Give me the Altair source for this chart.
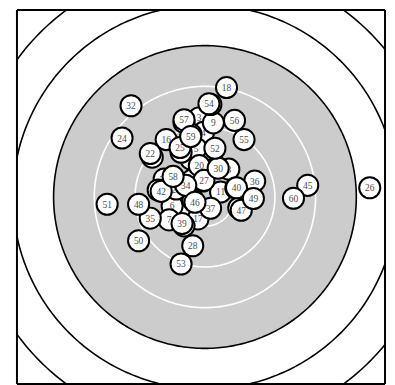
import altair as alt
import numpy as np
import pandas as pd

# Shot numbers and positions (mm from target centre, y up)
shot_n = [1, 2, 3, 4, 5, 6, 7, 8, 9, 10,
          11, 12, 13, 14, 15, 16, 17, 18, 19, 20,
          21, 22, 23, 24, 25, 26, 27, 28, 29, 30,
          31, 32, 33, 34, 35, 36, 37, 38, 39, 40,
          41, 42, 43, 44, 45, 46, 47, 48, 49, 50,
          51, 52, 53, 54, 55, 56, 57, 58, 59, 60]
shot_x = [-2.74, -3.32, -1.17, -0.29, -1.76, -6.45, -7.04, 4.69, 1.66, 2.35,
          3.07, -10.36, -4.69, -0.39, -2.54, -7.62, -1.37, 4.24, -2.35, -1.11,
          6.06, -10.75, -4.11, -16.29, -4.89, 32.39, -0.20, -2.40, -5.67, 2.60,
          1.17, -14.53, -8.02, -3.77, -10.75, 9.78, 1.11, 6.65, -4.50, 6.20,
          -9.19, -8.60, -4.11, -2.74, 20.20, -1.96, 7.14, -13.04, 9.52, -13.04,
          -19.22, 1.96, -4.69, 0.78, 7.68, 5.81, -4.11, -6.26, -2.80, 17.40]
shot_y = [7.43, -3.32, 15.54, 12.71, 9.58, -1.76, -4.50, 5.47, 14.57, 5.87,
          0.98, 7.82, 8.80, 3.13, 3.32, 11.28, -4.30, 21.51, -0.59, 6.16,
          1.76, 8.54, -5.67, 11.59, 9.72, 1.82, 3.26, -9.58, 1.56, 5.67,
          18.18, 17.93, 3.52, 2.29, -4.16, 3.13, -2.21, -2.15, -5.22, 1.82,
          1.37, 1.11, 14.66, 12.32, 2.29, -1.04, -2.60, -1.43, -0.29, -8.60,
          -1.43, 9.58, -13.16, 18.32, 11.28, 15.05, 15.19, 4.05, 11.87, -0.25]

# 10 m air pistol target ring radii (mm)
black_ring_r = [29.75, 37.75, 45.75, 53.75]
white_ring_r = [5.75, 13.75, 21.75]
aim_r = 29.75

XD = [-36.95, 35.39]
YD = [-36.75, 36.75]
W, H = 370, 376

sx = alt.Scale(domain=XD, nice=False, zero=False)
sy = alt.Scale(domain=YD, nice=False, zero=False)

t = np.linspace(0, 2 * np.pi, 361)
ring_rows = []
for kind, radii in (("black", black_ring_r), ("white", white_ring_r)):
    for r in radii:
        for i, a in enumerate(t):
            ring_rows.append({"ring": f"{kind}{r}", "kind": kind, "i": i,
                              "x": r * np.cos(a), "y": r * np.sin(a)})
rings = pd.DataFrame(ring_rows)

th = np.linspace(np.pi, 0, 361)
disk = pd.DataFrame({"x": aim_r * np.cos(th), "y": aim_r * np.sin(th),
                     "y2": -aim_r * np.sin(th)})

X = alt.X("x:Q", scale=sx, axis=None)
Y = alt.Y("y:Q", scale=sy, axis=None)

gray = alt.Chart(disk).mark_area(color="#cccccc", clip=True).encode(
    x=X, y=Y, y2="y2:Q")

white_lines = alt.Chart(rings).transform_filter(alt.datum.kind == "white").mark_line(
    color="white", strokeWidth=1.6, clip=True).encode(
    x=X, y=Y, detail="ring:N", order="i:Q")

black_lines = alt.Chart(rings).transform_filter(alt.datum.kind == "black").mark_line(
    color="black", strokeWidth=1.6, clip=True).encode(
    x=X, y=Y, detail="ring:N", order="i:Q")

shots = pd.DataFrame({"n": shot_n, "x": shot_x, "y": shot_y})
base = alt.Chart(shots)

layers = [gray, white_lines, black_lines]
for n in shot_n:
    f = base.transform_filter(alt.datum.n == n)
    layers.append(f.mark_circle(size=450, fill="white", stroke="black", strokeWidth=2,
                                opacity=1, fillOpacity=1, strokeOpacity=1).encode(
        x=X, y=Y))
    layers.append(f.mark_text(font="Liberation Serif", fontSize=9.5, fill="#4d4d4d",
                              align="center", baseline="middle",
                              dy=0.5).encode(x=X, y=Y, text="n:Q"))

# frame around the plot area
frame_src = alt.Chart(shots.head(1))
frame = [
    frame_src.mark_rule(color="black", strokeWidth=2).encode(
        x=alt.value(0), y=alt.value(0), y2=alt.value(H)),
    frame_src.mark_rule(color="black", strokeWidth=2).encode(
        x=alt.value(0), x2=alt.value(W), y=alt.value(0)),
    frame_src.mark_rule(color="black", strokeWidth=2).encode(
        x=alt.value(W), y=alt.value(0), y2=alt.value(H)),
    frame_src.mark_rule(color="black", strokeWidth=2).encode(
        x=alt.value(0), x2=alt.value(W), y=alt.value(H)),
]

chart = alt.layer(*layers, *frame).properties(
    width=W, height=H,
    padding={"left": 8, "top": 0, "right": 1, "bottom": 1},
).configure_view(stroke=None)

chart.save("out.html", embed_options={"renderer": "svg", "actions": False})
